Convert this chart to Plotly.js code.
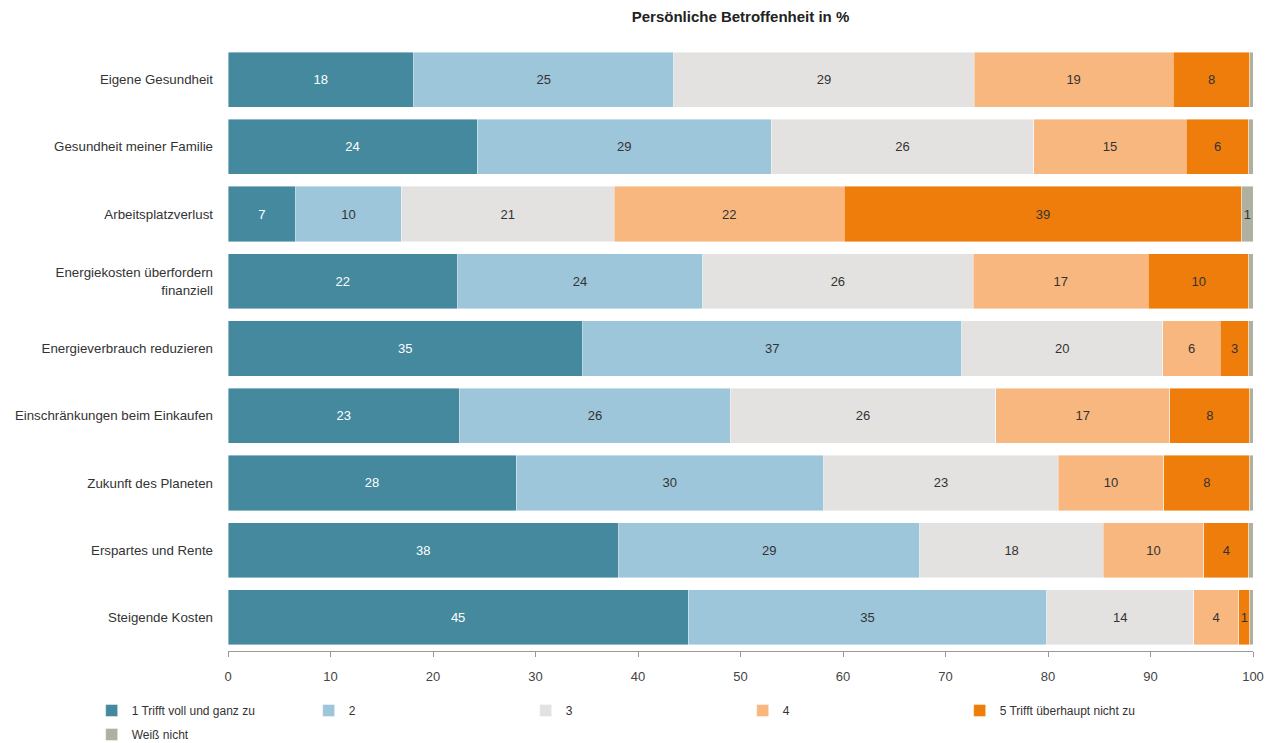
<!DOCTYPE html>
<html>
<head>
<meta charset="utf-8">
<script src="https://cdn.plot.ly/plotly-3.0.1.min.js"></script>
<style>html,body{margin:0;padding:0;background:#fff;}#chart{width:1266px;height:743px;}</style>
</head>
<body>
<div id="chart"></div>
<script>
const categories = [
  "Eigene Gesundheit",
  "Gesundheit meiner Familie",
  "Arbeitsplatzverlust",
  "Energiekosten überfordern<br>finanziell",
  "Energieverbrauch reduzieren",
  "Einschränkungen beim Einkaufen",
  "Zukunft des Planeten",
  "Erspartes und Rente",
  "Steigende Kosten"
];
const seriesNames = ["1 Trifft voll und ganz zu", "2", "3", "4", "5 Trifft überhaupt nicht zu", "Weiß nicht"];
const s1 = [18.1, 24.3, 6.6, 22.4, 34.6, 22.6, 28.1, 38.1, 44.9];
const s2 = [25.4, 28.7, 10.3, 23.9, 37.0, 26.4, 30.0, 29.4, 35.0];
const s3 = [29.3, 25.6, 20.8, 26.4, 19.6, 25.9, 22.9, 17.9, 14.3];
const s4 = [19.4, 14.9, 22.4, 17.1, 5.6, 17.0, 10.3, 9.8, 4.4];
const s5 = [7.5, 6.1, 38.8, 9.8, 2.8, 7.8, 8.4, 4.4, 1.1];
const s6 = [0.3, 0.4, 1.1, 0.4, 0.4, 0.3, 0.3, 0.4, 0.3];
const seriesValues = [s1, s2, s3, s4, s5, s6];
const colors = ["#44899e", "#9ec6da", "#e3e2e0", "#f7b77f", "#ee7d0c", "#aeb0a0"];
const textColors = ["#ffffff", "#333333", "#333333", "#333333", "#333333", "#333333"];

const traces = seriesValues.map((vals, i) => ({
  type: "bar",
  orientation: "h",
  name: seriesNames[i],
  legend: i === 5 ? "legend2" : "legend",
  y: categories,
  x: vals,
  text: vals.map(v => v >= 0.5 ? String(Math.round(v)) : ""),
  textposition: "inside",
  insidetextanchor: "middle",
  constraintext: "none",
  textfont: {family: "Liberation Sans, Arial, sans-serif", size: 13, color: textColors[i]},
  marker: {color: colors[i], line: {color: "rgba(255,255,255,0.7)", width: 0.6}},
  hoverinfo: "name+x"
}));

const legendBase = {
  orientation: "h",
  xref: "paper",
  x: -0.133,
  xanchor: "left",
  yref: "paper",
  yanchor: "top",
  entrywidth: 172,
  entrywidthmode: "pixels",
  font: {size: 12, color: "#333333"},
  traceorder: "normal"
};

const layout = {
  width: 1266,
  height: 743,
  barmode: "stack",
  bargap: 0.18,
  paper_bgcolor: "#ffffff",
  plot_bgcolor: "#ffffff",
  font: {family: "Liberation Sans, Arial, sans-serif", size: 13, color: "#333333"},
  margin: {l: 228, r: 13, t: 46, b: 92, autoexpand: false},
  title: {
    text: "<b>Persönliche Betroffenheit in %</b>",
    font: {size: 15, color: "#222222"},
    x: 0.5, xref: "paper", y: 0.978, yref: "container", yanchor: "middle"
  },
  xaxis: {
    range: [0, 100],
    tickvals: [0, 10, 20, 30, 40, 50, 60, 70, 80, 90, 100],
    showgrid: false,
    zeroline: false,
    showline: true,
    linecolor: "#999999",
    linewidth: 1,
    ticks: "outside",
    ticklen: 5,
    tickcolor: "#999999",
    tickfont: {size: 13, color: "#444444"},
    ticklabelstandoff: 8,
    fixedrange: true
  },
  yaxis: {
    autorange: "reversed",
    showgrid: false,
    zeroline: false,
    showline: false,
    ticks: "",
    ticklabelstandoff: 14,
    tickfont: {size: 13.3, color: "#333333"},
    fixedrange: true
  },
  legend: Object.assign({}, legendBase, {y: -0.0744}),
  legend2: Object.assign({}, legendBase, {y: -0.114}),
  showlegend: true
};

Plotly.newPlot("chart", traces, layout, {displayModeBar: false, staticPlot: true});
</script>
</body>
</html>
